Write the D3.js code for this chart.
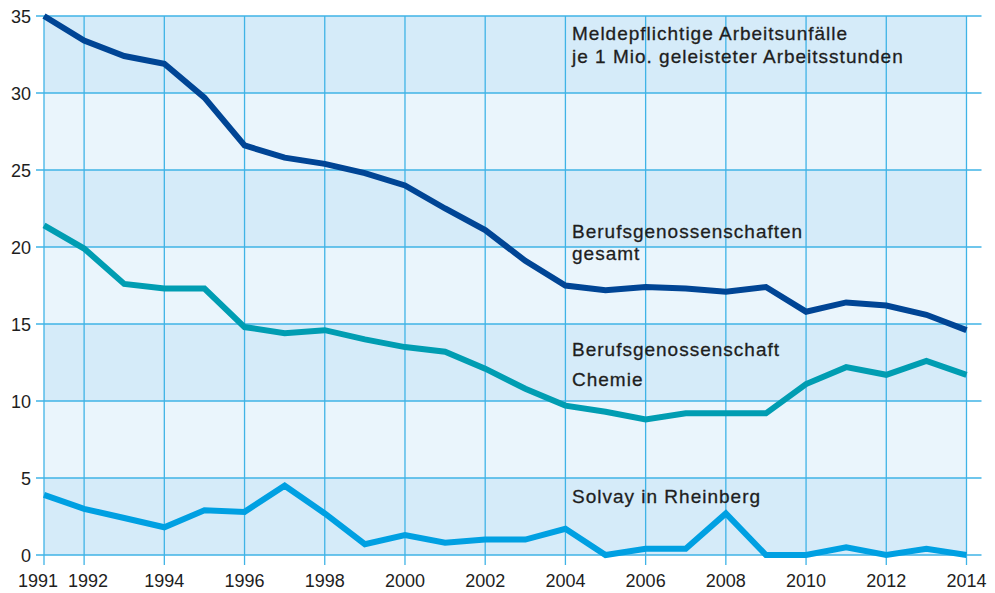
<!DOCTYPE html>
<html>
<head>
<meta charset="utf-8">
<script src="https://cdn.jsdelivr.net/npm/d3@7"></script>
<style>
  body { margin: 0; background: #fff; }
  text { font-family: "Liberation Sans", Arial, sans-serif; fill: #1e1e1e; }
</style>
</head>
<body>
<svg id="chart" width="995" height="593"></svg>
<script>
var years = d3.range(1991, 2015);
var gesamt = [35.0, 33.4, 32.4, 31.9, 29.7, 26.6, 25.8, 25.4, 24.8, 24.0, 22.5, 21.1, 19.1, 17.5, 17.2, 17.4, 17.3, 17.1, 17.4, 15.8, 16.4, 16.2, 15.6, 14.6];
var chemie = [21.4, 19.9, 17.6, 17.3, 17.3, 14.8, 14.4, 14.6, 14.0, 13.5, 13.2, 12.1, 10.8, 9.7, 9.3, 8.8, 9.2, 9.2, 9.2, 11.1, 12.2, 11.7, 12.6, 11.7];
var solvay = [3.9, 3.0, 2.4, 1.8, 2.9, 2.8, 4.5, 2.7, 0.7, 1.3, 0.8, 1.0, 1.0, 1.7, 0.0, 0.4, 0.4, 2.7, 0.0, 0.0, 0.5, 0.0, 0.4, 0.0];
var xTicks = [1991, 1992, 1994, 1996, 1998, 2000, 2002, 2004, 2006, 2008, 2010, 2012, 2014];
var yTicks = [0, 5, 10, 15, 20, 25, 30, 35];

var svg = d3.select("#chart");
var x = d3.scaleLinear().domain([1991, 2014]).range([44, 966.5]);
var y = d3.scaleLinear().domain([0, 35]).range([555, 16]);

var gridColor = "#3fb3e6";

// alternating bands
var bands = d3.range(0, 35, 5);
svg.selectAll(".band")
    .data(bands)
    .enter().append("rect")
    .attr("x", x(1991))
    .attr("width", x(2014) - x(1991))
    .attr("y", function (d) { return y(d + 5); })
    .attr("height", function (d) { return y(d) - y(d + 5); })
    .attr("fill", function (d) { return (d / 5) % 2 == 0 ? "#d5ebf9" : "#eaf5fc"; });

// vertical grid, only at labelled years
svg.selectAll(".vgrid")
    .data(xTicks)
    .enter().append("line")
    .attr("x1", function (d) { return x(d); })
    .attr("x2", function (d) { return x(d); })
    .attr("y1", y(35))
    .attr("y2", y(0) + 10)
    .attr("stroke", gridColor)
    .attr("stroke-width", 1.3);

// horizontal grid
svg.selectAll(".hgrid")
    .data(yTicks)
    .enter().append("line")
    .attr("x1", x(1991) - 8)
    .attr("x2", x(2014) + 15)
    .attr("y1", function (d) { return y(d); })
    .attr("y2", function (d) { return y(d); })
    .attr("stroke", gridColor)
    .attr("stroke-width", 1.5);

// y labels
svg.selectAll(".ylab")
    .data(yTicks)
    .enter().append("text")
    .attr("x", 31)
    .attr("y", function (d) { return y(d) + 6.5; })
    .attr("text-anchor", "end")
    .style("font-size", "18px")
    .text(function (d) { return d; });

// x labels (first two nudged apart like the original)
svg.selectAll(".xlab")
    .data(xTicks)
    .enter().append("text")
    .attr("x", function (d) { return x(d) + (d == 1991 ? -6 : d == 1992 ? 4 : 0); })
    .attr("y", 587)
    .attr("text-anchor", "middle")
    .style("font-size", "18px")
    .text(function (d) { return d; });

var line = d3.line()
    .x(function (d, i) { return x(years[i]); })
    .y(function (d) { return y(d); });

var series = [
    { values: gesamt, color: "#004595" },
    { values: chemie, color: "#009db2" },
    { values: solvay, color: "#00a0e2" }
];

svg.selectAll(".series")
    .data(series)
    .enter().append("path")
    .attr("d", function (d) { return line(d.values); })
    .attr("fill", "none")
    .attr("stroke", function (d) { return d.color; })
    .attr("stroke-width", 6)
    .attr("stroke-linejoin", "miter");

// annotations
var notes = [
    { text: "Meldepflichtige Arbeitsunfälle", y: 40 },
    { text: "je 1 Mio. geleisteter Arbeitsstunden", y: 63 },
    { text: "Berufsgenossenschaften", y: 238 },
    { text: "gesamt", y: 260 },
    { text: "Berufsgenossenschaft", y: 356 },
    { text: "Chemie", y: 386 },
    { text: "Solvay in Rheinberg", y: 503 }
];

svg.selectAll(".note")
    .data(notes)
    .enter().append("text")
    .attr("x", 572)
    .attr("y", function (d) { return d.y; })
    .style("font-size", "19px")
    .style("letter-spacing", "1px")
    .style("stroke", "#1e1e1e")
    .style("stroke-width", 0.3)
    .text(function (d) { return d.text; });
</script>
</body>
</html>
